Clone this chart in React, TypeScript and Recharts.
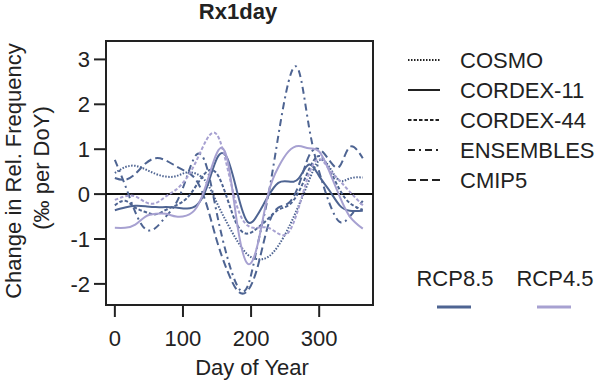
import React from 'react';
import { LineChart, Line, XAxis, YAxis, ReferenceLine, ReferenceArea } from 'recharts';

const DAYS = [0, 15, 30, 45, 60, 75, 90, 105, 120, 135, 150, 165, 180, 195, 210, 225, 240, 255, 270, 285, 300, 315, 330, 345, 364];

// RCP8.5
const COSMO_85 = [0.47, 0.6, 0.63, 0.55, 0.45, 0.39, 0.4, 0.48, 0.45, 0.25, -0.2, -0.65, -1.05, -1.35, -1.45, -1.4, -1.15, -0.75, -0.25, 0.3, 0.75, 0.6, 0.3, 0.35, 0.37];
const CORDEX11_85 = [-0.36, -0.3, -0.26, -0.27, -0.29, -0.29, -0.3, -0.32, -0.25, 0.15, 0.8, 0.8, 0.02, -0.62, -0.45, -0.05, 0.25, 0.28, 0.35, 0.66, 0.4, 0.08, -0.25, -0.37, -0.37];
const CORDEX44_85 = [-0.25, -0.15, -0.3, -0.4, -0.45, -0.35, -0.25, -0.1, 0.2, 0.5, 0.45, -0.1, -0.7, -0.88, -0.75, -0.55, -0.35, -0.25, 0.05, 0.55, 0.85, 0.55, 0.1, -0.2, -0.35];
const ENSEMBLES_85 = [0.76, 0.2, -0.4, -0.78, -0.75, -0.5, -0.2, 0.35, 0.88, 0.6, -0.45, -1.4, -2.05, -2.05, -1.1, -0.05, 1.3, 2.5, 2.75, 1.5, 0.5, -0.2, -0.62, -0.5, -0.15];
const CMIP5_85 = [0.36, 0.32, 0.45, 0.68, 0.8, 0.75, 0.62, 0.5, 0.3, -0.25, -1.05, -1.7, -2.15, -2.15, -1.6, -0.7, -0.3, -0.2, 0.2, 0.85, 1.0, 0.75, 0.62, 1.05, 0.8];

// RCP4.5
const CORDEX11_45 = [-0.75, -0.75, -0.68, -0.5, -0.44, -0.44, -0.5, -0.48, -0.3, 0.25, 0.92, 0.78, -0.7, -1.55, -1.1, 0.0, 0.6, 0.95, 1.07, 1.02, 0.95, 0.5, -0.05, -0.5, -0.77];
const CORDEX44_45 = [-0.13, -0.05, -0.05, -0.18, -0.2, -0.05, 0.1, 0.35, 0.75, 1.22, 1.32, 0.6, -0.3, -0.7, -0.75, -0.75, -0.88, -0.85, -0.3, 0.45, 0.78, 0.55, 0.3, 0.05, -0.25];

const X_TICKS = [0, 100, 200, 300];
const Y_TICKS = [-2, -1, 0, 1, 2, 3];
const X_DOMAIN = [-13, 379];
const Y_DOMAIN = [-2.47, 3.41];

const DARK = '#4e6492';
const LIGHT = '#a7a1d1';
const INK = '#222';
const FONT = '"Liberation Sans", Arial, sans-serif';

const MODELS = [
  { name: 'COSMO', dash: '1.5 1.5' },
  { name: 'CORDEX-11', dash: undefined },
  { name: 'CORDEX-44', dash: '3.5 2' },
  { name: 'ENSEMBLES', dash: '7 4 2 4' },
  { name: 'CMIP5', dash: '8 4' },
];

const SERIES = [
  { key: 'cosmo85', values: COSMO_85, color: DARK, dash: MODELS[0].dash },
  { key: 'cordex11_85', values: CORDEX11_85, color: DARK, dash: MODELS[1].dash },
  { key: 'cordex44_85', values: CORDEX44_85, color: DARK, dash: MODELS[2].dash },
  { key: 'ensembles85', values: ENSEMBLES_85, color: DARK, dash: MODELS[3].dash },
  { key: 'cmip5_85', values: CMIP5_85, color: DARK, dash: MODELS[4].dash },
  { key: 'cordex11_45', values: CORDEX11_45, color: LIGHT, dash: MODELS[1].dash },
  { key: 'cordex44_45', values: CORDEX44_45, color: LIGHT, dash: MODELS[2].dash },
];

const data = DAYS.map((day, i) => {
  const row: any = { day };
  SERIES.forEach(s => { row[s.key] = s.values[i]; });
  return row;
});

const tickStyle = { fontSize: 22, fill: INK, fontFamily: FONT };

const Overlay = () => (
  <svg width={600} height={381} style={{ position: 'absolute', left: 0, top: 0, pointerEvents: 'none' }}>
    <text x={238} y={19} textAnchor="middle" fontSize={22} fontWeight="bold" fill={INK} fontFamily={FONT}>Rx1day</text>
    <g transform="translate(13,171) rotate(-90)">
      <text x={0} y={8} textAnchor="middle" fontSize={22} fill={INK} fontFamily={FONT}>Change in Rel. Frequency</text>
    </g>
    <g transform="translate(41,168) rotate(-90)">
      <text x={0} y={8} textAnchor="middle" fontSize={22} fill={INK} fontFamily={FONT}>(‰ per DoY)</text>
    </g>
    <text x={252} y={375} textAnchor="middle" fontSize={22} fill={INK} fontFamily={FONT}>Day of Year</text>
    {MODELS.map((m, i) => (
      <g key={m.name}>
        <line x1={408} x2={440} y1={60 + i * 30} y2={60 + i * 30} stroke={INK} strokeWidth={2} strokeDasharray={m.dash} />
        <text x={460} y={68 + i * 30} fontSize={22} fill={INK} fontFamily={FONT}>{m.name}</text>
      </g>
    ))}
    <text x={455} y={286} textAnchor="middle" fontSize={22} fill={INK} fontFamily={FONT}>RCP8.5</text>
    <text x={555} y={286} textAnchor="middle" fontSize={22} fill={INK} fontFamily={FONT}>RCP4.5</text>
    <line x1={437} x2={471} y1={307} y2={307} stroke={DARK} strokeWidth={3} />
    <line x1={537} x2={571} y1={307} y2={307} stroke={LIGHT} strokeWidth={3} />
  </svg>
);

export default function App() {
  return (
    <div style={{ position: 'absolute', left: 0, top: 0, width: 600, height: 381, background: '#fff' }}>
      <LineChart width={600} height={381} data={data} margin={{ top: 41, right: 227, bottom: 0, left: 0 }}>
        <XAxis
          dataKey="day"
          type="number"
          domain={X_DOMAIN}
          ticks={X_TICKS}
          height={76}
          axisLine={false}
          tickLine={{ stroke: INK, strokeWidth: 2 }}
          tickSize={12}
          tickMargin={13}
          tick={tickStyle}
          allowDataOverflow
        />
        <YAxis
          type="number"
          domain={Y_DOMAIN}
          ticks={Y_TICKS}
          width={106}
          axisLine={false}
          tickLine={{ stroke: INK, strokeWidth: 2 }}
          tickSize={12}
          tickMargin={4}
          tick={tickStyle}
          allowDataOverflow
        />
        <ReferenceArea x1={X_DOMAIN[0]} x2={X_DOMAIN[1]} y1={Y_DOMAIN[0]} y2={Y_DOMAIN[1]} fill="none" stroke={INK} strokeWidth={2} />
        <ReferenceLine y={0} stroke="#111" strokeWidth={2} />
        {SERIES.map(s => (
          <Line
            key={s.key}
            dataKey={s.key}
            type="natural"
            stroke={s.color}
            strokeWidth={2}
            strokeDasharray={s.dash}
            dot={false}
            activeDot={false}
            isAnimationActive={false}
          />
        ))}
      </LineChart>
      <Overlay />
    </div>
  );
}
